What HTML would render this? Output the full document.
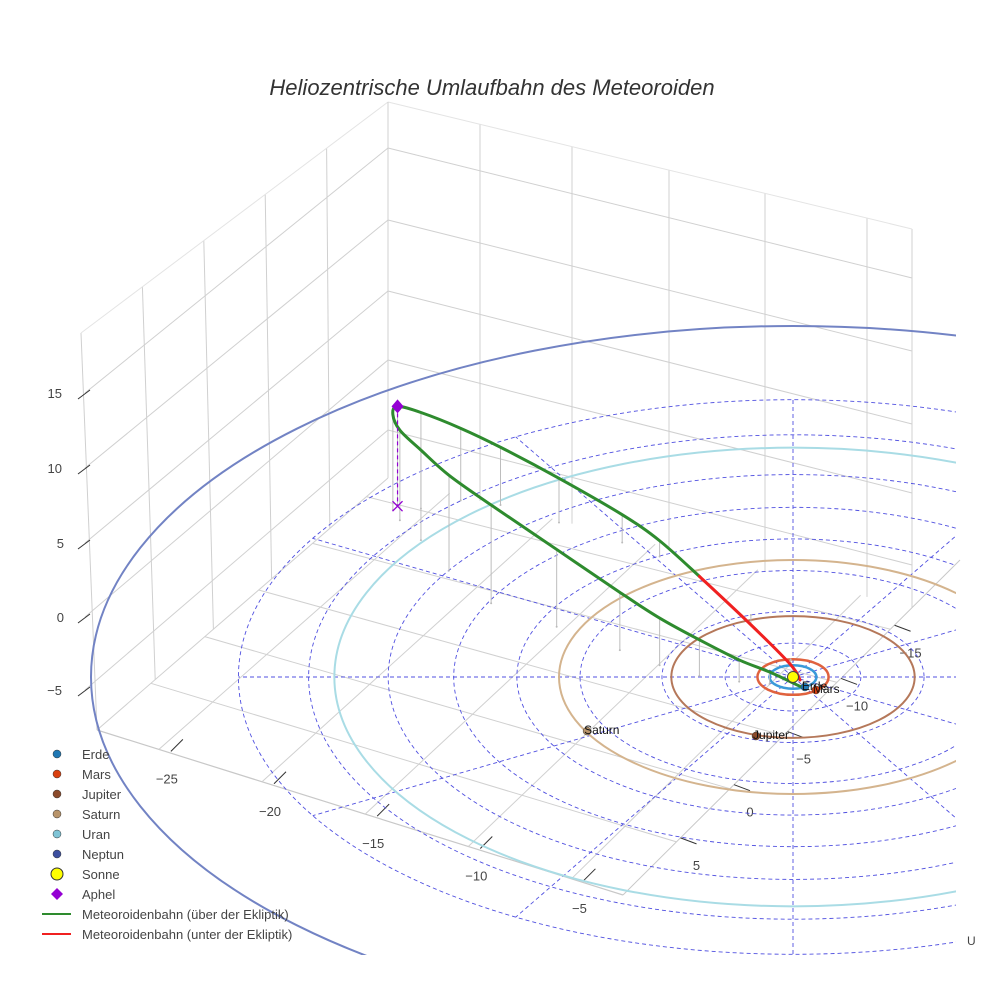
<!DOCTYPE html>
<html><head><meta charset="utf-8">
<style>
html,body{margin:0;padding:0;background:#fff;}
svg{display:block;font-family:"Liberation Sans",sans-serif;}
</style></head>
<body>
<svg id="chart" width="984" height="984" viewBox="0 0 984 984" xmlns="http://www.w3.org/2000/svg">
<defs><clipPath id="sc"><rect x="0" y="0" width="956" height="955"/></clipPath></defs>
<rect width="984" height="984" fill="#fff"/>
<text x="492" y="95" text-anchor="middle" font-size="22" font-style="italic" fill="#333">Heliozentrische Umlaufbahn des Meteoroiden</text>
<g id="box"></g>
<g id="scene" clip-path="url(#sc)"></g>
<g id="legend"></g>
</svg>
<script>
// ---- data ----
const planetNames = ["Erde","Mars","Jupiter","Saturn","Uran","Neptun"];
const planetColors = ["#1f78b4","#d9400f","#8b4a2b","#b8946a","#7fc4d6","#3d4f9f"];
const orbitColors = ["#3a9ad9","#e0623e","#b5785a","#d4b48e","#a9dce5","#7283c4"];
const orbitRadii = [1.0,1.52,5.2,10.0,19.6,30.0];
const planetX = [0.51,0.98,-1.58,-8.8,null,null];
const planetY = [-0.85,-1.11,-5.04,-4.62,null,null];
const gridRings = [1.0,2.9,5.6,9.1,11.8,14.5,17.3,20.7,23.7];
const gridAngles = [0,30,60,90,120,150,180,210,240,270,300,330];
const orbitX = [0.3,-1.0,-2.3,-4.0,-5.7,-7.4,-10.1,-12.9,-14.7,-15.9,-16.8,-17.1,-16.9,-15.9,-14.2,-12.5,-10.0,-7.3,-5.7,-4.0,-1.8,-0.1,0.3];
const orbitY = [-0.8,-0.6,-0.4,0.1,1.0,2.3,4.3,6.3,9.1,11.7,13.4,14.3,14.6,14.4,15.1,14.7,13.2,11.5,10.3,8.6,5.3,1.5,0];
const orbitZ = [0,1.6,2.9,4.8,6.3,7.7,10.3,13.1,12.7,12.0,12.0,12.7,13.3,12.8,9.6,7.7,5.9,3.7,2.1,0,-1.3,-0.7,-0.4];
const aphel = [-16.9,14.6,13.3];
const zTicks = [15,10,5,0,-5];
const xTicks = [-25,-20,-15,-10,-5];
const yTicks = [-15,-10,-5,0,5];

// ---- projection ----
const SX=793, SY=677, KX=23.4, KY=11.7, KZ=7.5;
function px(x){return SX+KX*x;}
function py(y,z){return SY-KY*y-KZ*(z||0);}
const NS="http://www.w3.org/2000/svg";
function mk(tag,attrs,parent){const e=document.createElementNS(NS,tag);for(const k in attrs)e.setAttribute(k,attrs[k]);parent.appendChild(e);return e;}
const box=document.getElementById('box'), scene=document.getElementById('scene'), legend=document.getElementById('legend');
function lerp(a,b,t){return [a[0]+(b[0]-a[0])*t,a[1]+(b[1]-a[1])*t];}
function line(p,q,st,w,parent,name){const l=mk('line',{x1:p[0],y1:p[1],x2:q[0],y2:q[1],stroke:st,'stroke-width':w},parent);return l;}

// ---- 3D box ----
const G="#d0d0d0";
const LT=[81,333], LB=[97,730], CT=[388,102], CB=[388,478], RT=[912,229], RB=[912,608], FF=[623,895];
[0,0.2,0.4,0.6,0.8,1].forEach(t=>line(lerp(LT,CT,t),lerp(LB,CB,t),G,1,box,'left-wall-gridline'));
line(LT,CT,"#e4e4e4",1,box,'left-wall-edge');
const zl=[393,468,543,617,690], zc=[148,220,291,360,430], zr=[278,351,424,493,565];
zTicks.forEach((v,i)=>{
 line([85,zl[i]],[CB[0],zc[i]],G,1,box,'left-wall-gridline');
 line([CB[0],zc[i]],[912,zr[i]],G,1,box,'right-wall-gridline');
 line([78,zl[i]+6],[90,zl[i]-3],"#333",1,box,'z-tick-mark');
 const t=mk('text',{x:66-String(v).length*2,y:zl[i]+5,'text-anchor':'end','font-size':13,fill:'#444'},box);
 
 t.textContent=String(v).replace('-','\u2212');
});
[480,572,669,765,867,912].forEach(x=>{const t=(x-388)/(912-388);line(lerp(CT,RT,t),lerp(CB,RB,t),G,1,box,'right-wall-gridline');});
line(CT,RT,"#e4e4e4",1,box,'right-wall-edge');
line(CT,CB,G,1,box,'back-corner-edge');
line(LB,FF,"#c8c8c8",1.2,box,'floor-front-left-edge');
line(FF,[960,560],"#c8c8c8",1,box,'floor-front-right-edge');
line(LB,CB,G,1,box,'floor-back-left-edge');
const xl0=-28, xl1=-2.5, yl0=10, yl1=-17;
xTicks.forEach(v=>{
 const t=(v-xl0)/(xl1-xl0);
 const a=lerp(LB,FF,t), b=lerp(CB,RB,t);
 line(a,b,G,1,box,'floor-x-gridline');
 line([a[0]+12,a[1]+2],[a[0]+24,a[1]-10],"#333",1,box,'x-tick-mark');
 const tx=mk('text',{x:a[0]+8,y:a[1]+34,'text-anchor':'middle','font-size':13,fill:'#444'},box);
 
 tx.textContent=String(v).replace('-','\u2212');
});
yTicks.forEach(v=>{
 const t=(yl0-v)/(yl0-yl1);
 const a=lerp(LB,CB,t), b=lerp(FF,RB,t);
 line(a,b,G,1,box,'floor-y-gridline');
 line([b[0]+4,b[1]-4],[b[0]+20,b[1]+2],"#333",1,box,'y-tick-mark');
 const tx=mk('text',{x:b[0]+20,y:b[1]+28,'text-anchor':'middle','font-size':13,fill:'#444'},box);
 
 tx.textContent=String(v).replace('-','\u2212');
});
const ut=mk('text',{x:967,y:945,'font-size':12,fill:'#444'},box);
ut.textContent='U';

// ---- polar grid on ecliptic ----
gridRings.forEach(r=>{
 const e=mk('ellipse',{cx:px(0),cy:py(0),rx:KX*r,ry:KY*r,fill:'none',stroke:'#5050e0','stroke-width':0.9,'stroke-dasharray':'4,3'},scene);
 
});
const rMax=gridRings[gridRings.length-1];
gridAngles.forEach(a=>{
 const t=a*Math.PI/180;
 const l=mk('line',{x1:px(0),y1:py(0),x2:px(rMax*Math.cos(t)),y2:py(rMax*Math.sin(t)),stroke:'#5050e0','stroke-width':0.9,'stroke-dasharray':'4,3'},scene);
 
});

// ---- planet orbits ----
orbitRadii.forEach((r,i)=>{
 const e=mk('ellipse',{cx:px(0),cy:py(0),rx:KX*r,ry:KY*r,fill:'none',stroke:orbitColors[i],'stroke-width':i<2?2.5:2},scene);
 
});

// ---- drop lines ----
orbitX.forEach((x,i)=>{
 const l=mk('line',{x1:px(x),y1:py(orbitY[i],orbitZ[i]),x2:px(x),y2:py(orbitY[i],0),stroke:'#bdbdbd','stroke-width':1},scene);
 
 const c=mk('circle',{cx:px(x),cy:py(orbitY[i],0),r:1,fill:'#bbb'},scene);
 
});

// ---- meteoroid orbit ----
const pts=orbitX.map((x,i)=>[px(x),py(orbitY[i],orbitZ[i]),orbitZ[i]]);
function crPath(p){let d='M'+p[0][0]+','+p[0][1];for(let i=0;i<p.length-1;i++){const p0=p[i-1]||p[i],p1=p[i],p2=p[i+1],p3=p[i+2]||p2;
 d+=' C'+(p1[0]+(p2[0]-p0[0])/6)+','+(p1[1]+(p2[1]-p0[1])/6)+' '+(p2[0]-(p3[0]-p1[0])/6)+','+(p2[1]-(p3[1]-p1[1])/6)+' '+p2[0]+','+p2[1];}return d;}
let runs=[], cur=[pts[0]], curNeg=pts[0][2]<0;
for(let i=1;i<pts.length;i++){
 const neg=pts[i][2]<0;
 cur.push(pts[i]);
 if(neg!==curNeg && !(pts[i][2]===0)){runs.push([cur.slice(0,-1),curNeg]);cur=[pts[i-1],pts[i]];curNeg=neg;}
}
runs.push([cur,curNeg]);
runs.forEach(([p,neg])=>{
 const path=mk('path',{d:crPath(p),fill:'none',stroke:neg?'#f02020':'#2e8b2e','stroke-width':3,'stroke-linecap':'round'},scene);
 
 
});

// ---- aphel ----
const ax=px(aphel[0]), ay=py(aphel[1],aphel[2]), ay0=py(aphel[1],0);
const al=mk('line',{x1:ax,y1:ay,x2:ax,y2:ay0,stroke:'#9400d3','stroke-width':1.2,'stroke-dasharray':'4,3'},scene);

const ap=mk('path',{d:`M${ax},${ay-7} L${ax+6},${ay} L${ax},${ay+7} L${ax-6},${ay}Z`,fill:'#9400d3'},scene);

const ac=mk('path',{d:`M${ax-5},${ay0-5} L${ax+5},${ay0+5} M${ax+5},${ay0-5} L${ax-5},${ay0+5}`,stroke:'#9400d3','stroke-width':1.3},scene);


// ---- sun ----
const sun=mk('circle',{cx:px(0),cy:py(0),r:5.5,fill:'#ffff00',stroke:'#444','stroke-width':1},scene);


// ---- planets ----
planetNames.forEach((n,i)=>{
 if(planetX[i]===null)return;
 const c=mk('circle',{cx:px(planetX[i]),cy:py(planetY[i]),r:4,fill:planetColors[i],stroke:'#333','stroke-width':0.5},scene);
 
 const t=mk('text',{x:px(planetX[i])-3,y:py(planetY[i])+3,'font-size':12,fill:'#111'},scene);
 
 t.textContent=n;
});

// ---- legend ----
const legItems=[["Erde","dot","#1f78b4"],["Mars","dot","#d9400f"],["Jupiter","dot","#8b4a2b"],["Saturn","dot","#b8946a"],["Uran","dot","#7fc4d6"],["Neptun","dot","#3d4f9f"],["Sonne","sun","#ffff00"],["Aphel","diamond","#9400d3"],["Meteoroidenbahn (über der Ekliptik)","line","#2e8b2e"],["Meteoroidenbahn (unter der Ekliptik)","line","#f02020"]];
legItems.forEach((it,i)=>{
 const y=754+i*20;
 const g=mk('g',{},legend);
 
 if(it[1]==='dot')mk('circle',{cx:57,cy:y,r:4,fill:it[2],stroke:'#333','stroke-width':0.5},g);
 else if(it[1]==='sun')mk('circle',{cx:57,cy:y,r:6,fill:it[2],stroke:'#333','stroke-width':1},g);
 else if(it[1]==='diamond')mk('path',{d:`M57,${y-6} L63,${y} L57,${y+6} L51,${y}Z`,fill:it[2]},g);
 else mk('line',{x1:42,y1:y,x2:71,y2:y,stroke:it[2],'stroke-width':2},g);
 const t=mk('text',{x:82,y:y+5,'font-size':13,fill:'#444'},g);
 t.textContent=it[0];
});
</script>
</body></html>
